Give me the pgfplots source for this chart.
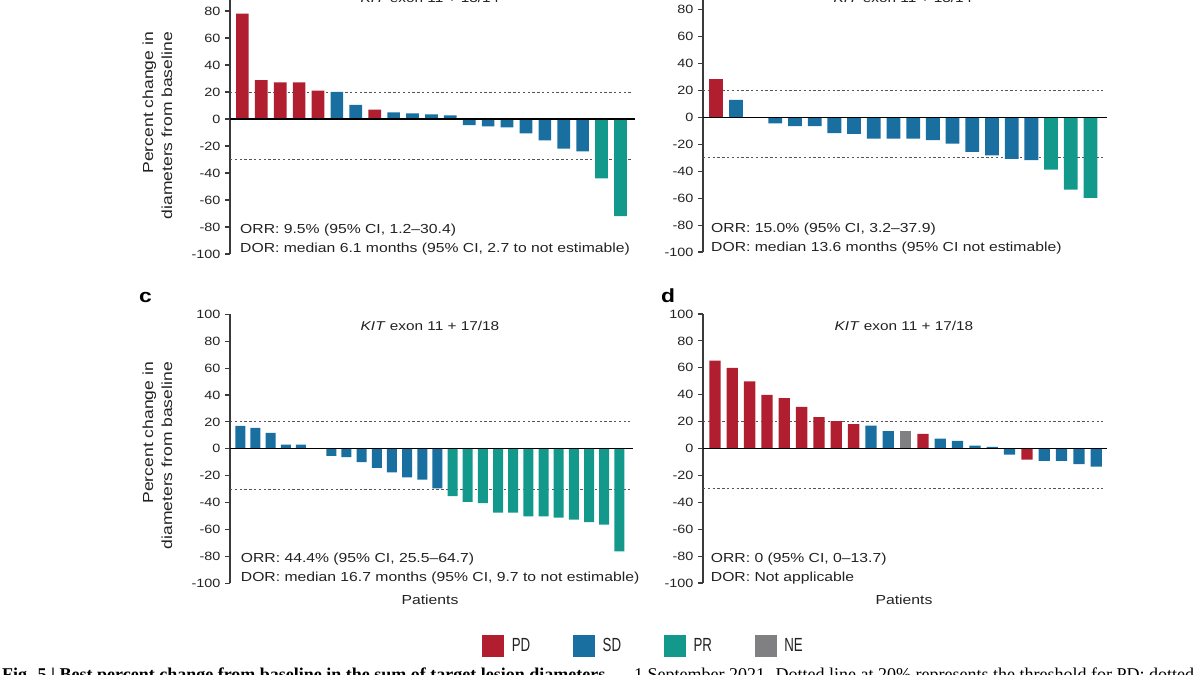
\documentclass[border=0pt]{standalone}
\usepackage{fontspec}
\setmainfont{Liberation Sans}[FakeStretch=1.2]
\newfontfamily\legfont{Liberation Sans}[FakeStretch=0.7]
\newfontfamily\capfont{Liberation Serif}
\usepackage{pgfplots}
\pgfplotsset{compat=1.18}
\definecolor{pd}{HTML}{B01E30}
\definecolor{sd}{HTML}{186FA0}
\definecolor{pr}{HTML}{12998C}
\definecolor{ne}{HTML}{808082}
\definecolor{axc}{HTML}{3A3A3A}
\definecolor{txt}{HTML}{222222}
\definecolor{dotc}{HTML}{555555}
\newcommand\tickfont{\fontsize{12}{13}\selectfont}
\newcommand\annfont{\fontsize{13.1}{15}\selectfont}
\tikzset{dotl/.style={draw=dotc, line width=0.9pt, dash pattern=on 2.4pt off 2.4pt},
         zerol/.style={draw=black, line width=1.3pt}}
\pgfplotsset{
  wf/.style={scale only axis, anchor=south west,
    axis x line=none, axis y line*=left,
    ymin=-100, ymax=100, ytick={-100,-80,...,100}, xtick=\empty,
    tick align=outside, major tick length=5pt,
    y axis line style={line width=1.1pt, draw=axc},
    ytick style={line width=1.1pt, draw=axc},
    yticklabel style={font=\tickfont, text=txt, xshift=-1pt},
    /pgf/number format/assume math mode=true,
    clip=false},
  bars/.style={ybar, bar shift=0pt, draw=none, fill=#1}
}
\begin{document}
\begin{tikzpicture}
\useasboundingbox (0pt,0pt) rectangle (1200pt,-675pt);
\clip (0pt,0pt) rectangle (1200pt,-675pt);

% ---------------- panel a ----------------
\begin{axis}[wf, at={(230pt,-254pt)}, width=405pt, height=270pt,
  xmin=0.344, xmax=21.77, bar width=0.67]
\draw[dotl] (axis cs:0.344,20) -- (axis cs:21.6,20);
\draw[dotl] (axis cs:0.344,-30) -- (axis cs:21.6,-30);
\addplot[bars=pd] coordinates {(1,78.0) (2,28.8) (3,27.1) (4,27.1) (5,21.1) (8,7.0)};
\addplot[bars=sd] coordinates {(6,20.1) (7,10.4) (9,5.0) (10,4.2) (11,3.5) (12,2.7) (13,-4.5) (14,-5.5) (15,-6.2) (16,-10.7) (17,-15.9) (18,-21.9) (19,-23.9)};
\addplot[bars=pr] coordinates {(20,-44.0) (21,-72.0)};
\draw[zerol] (axis cs:0.344,0) -- (axis cs:21.77,0);
\end{axis}

% ---------------- panel b ----------------
\begin{axis}[wf, at={(703pt,-252pt)}, width=404pt, height=269.5pt,
  xmin=0.33, xmax=20.84, bar width=0.70]
\draw[dotl] (axis cs:0.33,20) -- (axis cs:20.65,20);
\draw[dotl] (axis cs:0.33,-30) -- (axis cs:20.65,-30);
\addplot[bars=pd] coordinates {(1,28.3)};
\addplot[bars=sd] coordinates {(2,12.9) (3,0) (4,-4.5) (5,-6.5) (6,-6.5) (7,-11.7) (8,-12.4) (9,-15.9) (10,-15.9) (11,-15.9) (12,-16.9) (13,-19.6) (14,-25.6) (15,-28.3) (16,-30.8) (17,-31.8)};
\addplot[bars=pr] coordinates {(18,-38.8) (19,-53.7) (20,-59.9)};
\draw[zerol] (axis cs:0.33,0) -- (axis cs:20.84,0);
\end{axis}

% ---------------- panel c ----------------
\begin{axis}[wf, at={(230pt,-583.3pt)}, width=403pt, height=269pt,
  xmin=0.32, xmax=26.9, bar width=0.66]
\draw[dotl] (axis cs:0.32,20) -- (axis cs:26.7,20);
\draw[dotl] (axis cs:0.32,-30) -- (axis cs:26.7,-30);
\addplot[bars=sd] coordinates {(1,17.1) (2,15.6) (3,11.9) (4,3.2) (5,3.2) (6,0) (7,-5.2) (8,-6.2) (9,-9.9) (10,-14.1) (11,-17.6) (12,-21.3) (13,-23.0) (14,-29.5)};
\addplot[bars=pr] coordinates {(15,-35.1) (16,-39.4) (17,-40.3) (18,-47.5) (19,-47.5) (20,-50.2) (21,-50.2) (22,-51.2) (23,-52.7) (24,-54.5) (25,-56.4) (26,-76.2)};
\draw[zerol] (axis cs:0.32,0) -- (axis cs:26.9,0);
\end{axis}

% ---------------- panel d ----------------
\begin{axis}[wf, at={(703pt,-583pt)}, width=404pt, height=269pt,
  xmin=0.31, xmax=23.62, bar width=0.65,
  legend style={at={(-0.147,-0.232)}, anchor=center, draw=none, fill=none,
    legend columns=4, font=\legfont\fontsize{19}{20}\selectfont, text=txt,
    /tikz/every odd column/.append style={column sep=6pt},
    /tikz/every even column/.append style={column sep=41pt}},
  legend cell align=left]
\addlegendimage{legend image code/.code={\fill[pd] (0pt,-10.5pt) rectangle (21pt,10.5pt);}}
\addlegendimage{legend image code/.code={\fill[sd] (0pt,-10.5pt) rectangle (21pt,10.5pt);}}
\addlegendimage{legend image code/.code={\fill[pr] (0pt,-10.5pt) rectangle (21pt,10.5pt);}}
\addlegendimage{legend image code/.code={\fill[ne] (0pt,-10.5pt) rectangle (21pt,10.5pt);}}
\legend{PD,SD,PR,NE}
\draw[dotl] (axis cs:0.31,20) -- (axis cs:23.4,20);
\draw[dotl] (axis cs:0.31,-30) -- (axis cs:23.4,-30);
\addplot[bars=pd] coordinates {(1,65.3) (2,59.9) (3,50.0) (4,39.9) (5,37.4) (6,30.9) (7,23.3) (8,20.3) (9,18.1) (13,10.9) (19,-8.2)};
\addplot[bars=sd] coordinates {(10,17.1) (11,12.9) (14,7.4) (15,5.7) (16,2.2) (17,1.2) (18,-4.5) (20,-9.2) (21,-9.2) (22,-11.6) (23,-13.4)};
\addplot[bars=ne] coordinates {(12,12.9)};
\draw[zerol] (axis cs:0.31,0) -- (axis cs:23.62,0);
\end{axis}

% ---------------- texts ----------------
\begin{scope}[every node/.style={inner sep=0pt, text=txt}]
% titles (cut at the top edge, as in the reference)
\node[anchor=base, font=\fontsize{12.8}{14}\selectfont] at (430pt,-2pt) {\textit{KIT} exon 11 + 13/14};
\node[anchor=base, font=\fontsize{12.8}{14}\selectfont] at (903pt,-2pt) {\textit{KIT} exon 11 + 13/14};
\node[anchor=base, font=\fontsize{12.8}{14}\selectfont] at (430pt,-330pt) {\textit{KIT} exon 11 + 17/18};
\node[anchor=base, font=\fontsize{12.8}{14}\selectfont] at (904pt,-330pt) {\textit{KIT} exon 11 + 17/18};
% panel letters
\node[anchor=base west, font=\fontsize{19}{20}\selectfont\bfseries, text=black] at (139pt,-302pt) {c};
\node[anchor=base west, font=\fontsize{19}{20}\selectfont\bfseries, text=black] at (661pt,-302pt) {d};
% y labels
\node[rotate=90, anchor=east, align=right, font=\fontsize{14.6}{19}\selectfont] at (157.5pt,-32pt) {Percent change in\\diameters from baseline};
\node[rotate=90, anchor=east, align=right, font=\fontsize{14.6}{19}\selectfont] at (157.5pt,-362pt) {Percent change in\\diameters from baseline};
% x labels
\node[anchor=base, font=\fontsize{13.1}{15}\selectfont] at (430pt,-604pt) {Patients};
\node[anchor=base, font=\fontsize{13.1}{15}\selectfont] at (904pt,-604pt) {Patients};
% ORR / DOR
\node[anchor=base west, font=\annfont] at (240pt,-233pt) {ORR: 9.5\% (95\% CI, 1.2--30.4)};
\node[anchor=base west, font=\annfont] at (240pt,-252pt) {DOR: median 6.1 months (95\% CI, 2.7 to not estimable)};
\node[anchor=base west, font=\annfont] at (711pt,-232pt) {ORR: 15.0\% (95\% CI, 3.2--37.9)};
\node[anchor=base west, font=\annfont] at (711pt,-251pt) {DOR: median 13.6 months (95\% CI not estimable)};
\node[anchor=base west, font=\annfont] at (240.7pt,-562.7pt) {ORR: 44.4\% (95\% CI, 25.5--64.7)};
\node[anchor=base west, font=\annfont] at (240.7pt,-581pt) {DOR: median 16.7 months (95\% CI, 9.7 to not estimable)};
\node[anchor=base west, font=\annfont] at (710.7pt,-562.7pt) {ORR: 0 (95\% CI, 0--13.7)};
\node[anchor=base west, font=\annfont] at (710.7pt,-581pt) {DOR: Not applicable};
% caption (cut by the page edge, as in the reference)
\node[anchor=base west, font=\capfont\fontsize{18}{20}\selectfont\bfseries, text=black] at (2pt,-680pt) {Fig. 5 | Best percent change from baseline in the sum of target lesion diameters};
\node[anchor=base west, font=\capfont\fontsize{18}{20}\selectfont, text=black] at (634pt,-680pt) {1 September 2021. Dotted line at 20\% represents the threshold for PD; dotted};
\end{scope}
\end{tikzpicture}
\end{document}
